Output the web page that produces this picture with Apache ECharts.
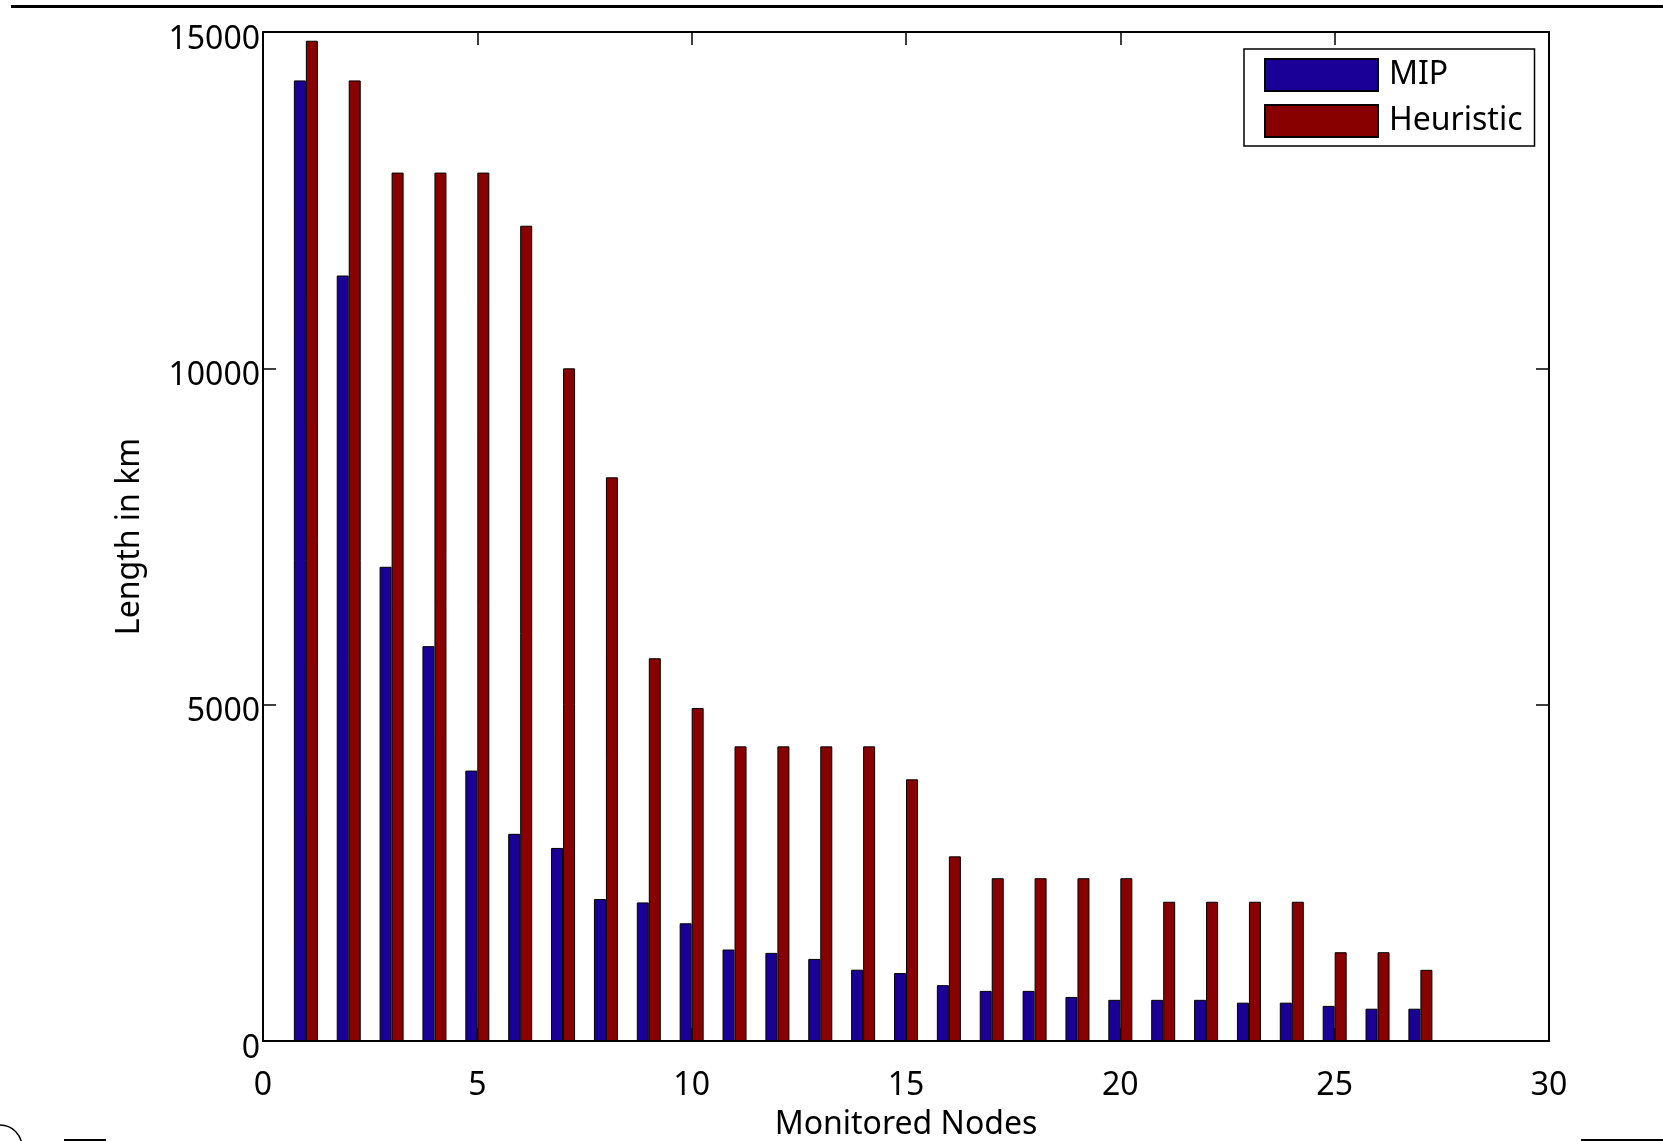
<!DOCTYPE html>
<html>
<head>
<meta charset="utf-8">
<script src="https://cdn.jsdelivr.net/npm/echarts@6/dist/echarts.min.js"></script>
<style>
html,body{margin:0;padding:0;background:#fff;}
#c{width:1663px;height:1141px;}
</style>
</head>
<body>
<div id="c"></div>
<script>
const nodes = [1,2,3,4,5,6,7,8,9,10,11,12,13,14,15,16,17,18,19,20,21,22,23,24,25,26,27];
const mipValues = [14280,11380,7050,5870,4020,3080,2870,2110,2060,1750,1360,1310,1220,1060,1010,830,745,745,655,612,612,612,570,570,522,480,480];
const heuristicValues = [14870,14280,12910,12910,12910,12120,10000,8380,5690,4950,4380,4380,4380,4380,3890,2745,2420,2420,2420,2420,2070,2070,2070,2070,1320,1320,1058];
const seriesNames = ['MIP','Heuristic'];
const xTicks = [0,5,10,15,20,25,30];
const yTicks = [0,5000,10000,15000];

const FONT = '"Noto Sans", "Liberation Sans", Arial, sans-serif';
const FS = 32;
const chart = echarts.init(document.getElementById('c'), null, {renderer:'canvas'});

const axisLine = {show:true, onZero:false, lineStyle:{color:'#000', width:2}};
const tick = {show:true, inside:true, length:13, lineStyle:{color:'#000', width:1.5}};

const option = {
  backgroundColor:'#fff',
  animation:false,
  grid:{left:263, right:114, top:32, bottom:100, containLabel:false, outerBoundsMode:'none'},
  legend:{
    orient:'vertical', left:1244, top:49,
    data:seriesNames,
    itemWidth:113, itemHeight:32, itemGap:12,
    padding:[9,12,8,20],
    borderColor:'#000', borderWidth:1.5, backgroundColor:'#fff',
    textStyle:{fontFamily:FONT, fontSize:FS, color:'#000', padding:[0,0,0,6],
      verticalAlign:'top', lineHeight:14},
    icon:'rect'
  },
  xAxis:[{
    type:'value', min:xTicks[0], max:xTicks[xTicks.length-1], interval:5,
    position:'bottom',
    name:'Monitored Nodes', nameLocation:'middle', nameGap:68,
    nameTextStyle:{fontFamily:FONT, fontSize:FS, color:'#000'},
    axisLine:axisLine, axisTick:tick, splitLine:{show:false},
    axisLabel:{fontFamily:FONT, fontSize:FS, color:'#000', margin:29}
  },{
    type:'value', min:xTicks[0], max:xTicks[xTicks.length-1], interval:5,
    position:'top',
    axisLine:axisLine, axisTick:tick, splitLine:{show:false},
    axisLabel:{show:false}
  }],
  yAxis:[{
    type:'value', min:yTicks[0], max:yTicks[yTicks.length-1], interval:5000,
    position:'left',
    name:'Length in km', nameLocation:'middle', nameGap:117, nameRotate:90,
    nameTextStyle:{fontFamily:FONT, fontSize:FS, color:'#000'},
    axisLine:axisLine, axisTick:tick, splitLine:{show:false},
    axisLabel:{fontFamily:FONT, fontSize:FS, color:'#000', margin:3,
      verticalAlign:'top', lineHeight:15,
      formatter:function(v){return String(v);}}
  },{
    type:'value', min:yTicks[0], max:yTicks[yTicks.length-1], interval:5000,
    position:'right',
    axisLine:axisLine, axisTick:tick, splitLine:{show:false},
    axisLabel:{show:false}
  }],
  series:[{
    name:seriesNames[0], type:'bar', xAxisIndex:0, yAxisIndex:0,
    barWidth:12, barGap:'0%',
    itemStyle:{color:'#1a0096', borderColor:'#000', borderWidth:1},
    data:nodes.map((n,i)=>[n, mipValues[i]])
  },{
    name:seriesNames[1], type:'bar', xAxisIndex:0, yAxisIndex:0,
    barWidth:12, barGap:'0%',
    itemStyle:{color:'#880000', borderColor:'#000', borderWidth:1},
    data:nodes.map((n,i)=>[n, heuristicValues[i]])
  }],
  graphic:[
    {type:'rect', shape:{x:11, y:5, width:1652, height:3}, style:{fill:'#000'}, silent:true},
    {type:'circle', shape:{cx:0, cy:1147, r:22}, style:{fill:'none', stroke:'#000', lineWidth:1.5}, silent:true},
    {type:'rect', shape:{x:64, y:1139, width:42, height:3}, style:{fill:'#000'}, silent:true},
    {type:'rect', shape:{x:1581, y:1139, width:82, height:3}, style:{fill:'#000'}, silent:true}
  ]
};
chart.setOption(option);
</script>
</body>
</html>
